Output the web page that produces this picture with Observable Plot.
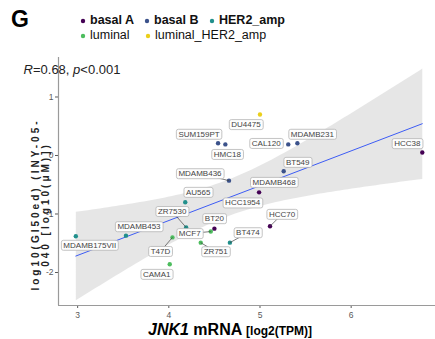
<!DOCTYPE html>
<html><head><meta charset="utf-8">
<script src="https://cdn.jsdelivr.net/npm/d3@7"></script>
<script src="https://cdn.jsdelivr.net/npm/@observablehq/plot@0.6"></script>
<style>
body{margin:0;background:#fff;font-family:"Liberation Sans",Arial,sans-serif;}
#wrap{width:435px;height:339px;overflow:hidden;}
svg{display:block;}
</style></head>
<body><div id="wrap">
<svg id="head" width="435" height="48" font-family="Liberation Sans, Arial, sans-serif">
  <text x="11" y="27" font-size="23" font-weight="bold" fill="#000">G</text>
  <g id="legend"></g>
</svg>
<div id="chart"></div>
<svg id="cap" width="435" height="19" font-family="Liberation Sans, Arial, sans-serif">
  <text x="148" y="15" font-weight="bold" fill="#000"><tspan font-style="italic" font-size="16">JNK1</tspan><tspan font-size="16"> mRNA </tspan><tspan font-size="12">[log2(TPM)]</tspan></text>
</svg>
</div>
<script>
// ---- data ----
const cellLines = ["MDAMB175VII","MDAMB453","CAMA1","T47D","ZR7530","AU565","MCF7","BT20","ZR751","BT474","HCC1954","MDAMB468","HCC70","MDAMB436","SUM159PT","HMC18","DU4475","CAL120","MDAMB231","BT549","HCC38"];
const subtypes  = ["HER2_amp","HER2_amp","luminal","luminal","HER2_amp","HER2_amp","luminal","basal A","luminal","HER2_amp","HER2_amp","basal A","basal A","basal B","basal B","basal B","luminal_HER2_amp","basal B","basal B","basal B","basal A"];
const jnk1      = [2.98,3.53,4.01,4.04,4.19,4.18,4.46,4.50,4.35,4.67,4.81,4.99,5.11,4.66,4.54,4.62,5.00,5.31,5.41,5.26,6.78];
const gi50      = [-1.38,-1.37,-1.86,-1.40,-1.23,-0.80,-1.30,-1.25,-1.49,-1.49,-0.81,-0.63,-1.21,-0.43,0.21,0.19,0.70,0.19,0.21,-0.27,0.05];
const subtypeNames = ["basal A","basal B","HER2_amp","luminal","luminal_HER2_amp"];
const xTicks = [3,4,5,6];
const yTicks = [-2,-1,0,1];
const statText = ["R","=0.68, ","p","<0.001"];
const yLabel = "log10(GI50ed) (INY-05-\n040 [log10(μM)])";

// ---- style ----
const subtypeColors = ["#440154","#3B528B","#21908C","#4DBD5E","#EBCF1A"];
// label nudges in pixels [dx, dy, draw connector]
const labelNudge = {
  MDAMB175VII:[14,9,false], MDAMB453:[13,-9,false], CAMA1:[-13,10,false], T47D:[-12,14,true],
  ZR7530:[-14,-16,true], AU565:[13,-10,false], MCF7:[-21,2,true], BT20:[0,-10,false],
  ZR751:[15,9,true], BT474:[18,-10,true], HCC1954:[0,0,false], MDAMB468:[15,-10,false],
  HCC70:[12,-12,true], MDAMB436:[-29,-7,true], SUM159PT:[-19,-9,false], HMC18:[2,10,false],
  DU4475:[-14,10,false], CAL120:[-22,-1,false], MDAMB231:[15,-9,false], BT549:[14,-9,false], HCC38:[-15,-9,false]
};

const W = 435, H = 272, mL = 58, mR = 0, mT = 9, mB = 15;
const xDom = [2.79, 6.925], yDom = [-2.564, 1.675];
const sx = d3.scaleLinear(xDom, [mL, W - mR]);
const sy = d3.scaleLinear(yDom, [H - mB, mT]);

const data = cellLines.map((n, i) => {
  const [ox, oy, seg] = labelNudge[n];
  return {name: n, subtype: subtypes[i], x: jnk1[i], y: gi50[i],
    lx: sx.invert(sx(jnk1[i]) + ox), ly: sy.invert(sy(gi50[i]) + oy), seg};
});

const plot = Plot.plot({
  width: W, height: H, marginLeft: mL, marginRight: mR, marginTop: mT, marginBottom: mB,
  style: {fontFamily: "Liberation Sans, Arial, sans-serif", fontSize: "8.5px", color: "#5a5a5a", background: "transparent", overflow: "visible"},
  x: {domain: xDom, ticks: xTicks, tickSize: 3, tickPadding: 3, label: null, tickFormat: d => String(d)},
  y: {domain: yDom, ticks: yTicks, tickSize: 3, tickPadding: 2, label: null, tickFormat: d => String(d)},
  color: {domain: subtypeNames, range: subtypeColors},
  marks: [
    Plot.linearRegressionY(data, {x: "x", y: "y", stroke: "#3d5cf5", strokeWidth: 1, fill: "#b8b8b8", fillOpacity: 0.35, ci: 0.97}),
    Plot.ruleX([xDom[0]], {stroke: "#9a9a9a", strokeWidth: 1.2}),
    Plot.ruleY([yDom[0]], {stroke: "#9a9a9a", strokeWidth: 1.2}),
    Plot.dot(data, {x: "x", y: "y", fill: "subtype", r: 2.2}),
    Plot.link(data.filter(d => d.seg), {x1: "x", y1: "y", x2: "lx", y2: "ly", stroke: "#444", strokeWidth: 0.7}),
    Plot.text(data, {x: "lx", y: "ly", text: "name", fill: "#444", fontSize: 8}),
    Plot.text([yLabel], {frameAnchor: "left", textAnchor: "middle", rotate: -90, dx: -17.5, dy: 23, fill: "#222", fontSize: 10, fontWeight: "bold"})
  ]
});
document.getElementById("chart").appendChild(plot);

// label boxes and letter-spacing
const ns = "http://www.w3.org/2000/svg";
plot.querySelectorAll('g[aria-label="text"]').forEach(g => {
  const texts = Array.from(g.querySelectorAll("text"));
  if (texts.length === cellLines.length) {
    texts.forEach(t => {
      const b = t.getBBox();
      const r = document.createElementNS(ns, "rect");
      r.setAttribute("x", b.x - 2); r.setAttribute("y", b.y - 0.5);
      r.setAttribute("width", b.width + 4); r.setAttribute("height", b.height + 1);
      const tf = t.getAttribute("transform");
      if (tf) r.setAttribute("transform", tf);
      r.setAttribute("rx", 2); r.setAttribute("fill", "#fdfdfd"); r.setAttribute("stroke", "#b5b5b5"); r.setAttribute("stroke-width", 0.8);
      g.insertBefore(r, t);
    });
  } else {
    texts.forEach(t => t.setAttribute("letter-spacing", "3px"));
  }
});

// stat annotation
const st = document.createElementNS(ns, "text");
st.setAttribute("x", 72); st.setAttribute("y", 26); st.setAttribute("font-size", 13); st.setAttribute("fill", "#222");
statText.forEach((s, i) => {
  const ts = document.createElementNS(ns, "tspan");
  ts.textContent = s;
  if (i % 2 === 0) ts.setAttribute("font-style", "italic");
  st.appendChild(ts);
});
plot.appendChild(st);

// legend
const leg = d3.select("#legend");
const legPos = [[83,20],[147,20],[212,20],[83,35],[148,35]];
subtypeNames.forEach((n, i) => {
  const [x, y] = legPos[i];
  leg.append("circle").attr("cx", x).attr("cy", y + 1).attr("r", 2.2).attr("fill", subtypeColors[i]);
  leg.append("text").attr("x", x + 7).attr("y", y + 4).attr("font-size", 12.5)
    .attr("font-weight", i < 3 ? "bold" : "normal").attr("fill", "#111").text(n);
});
</script>
</body></html>
